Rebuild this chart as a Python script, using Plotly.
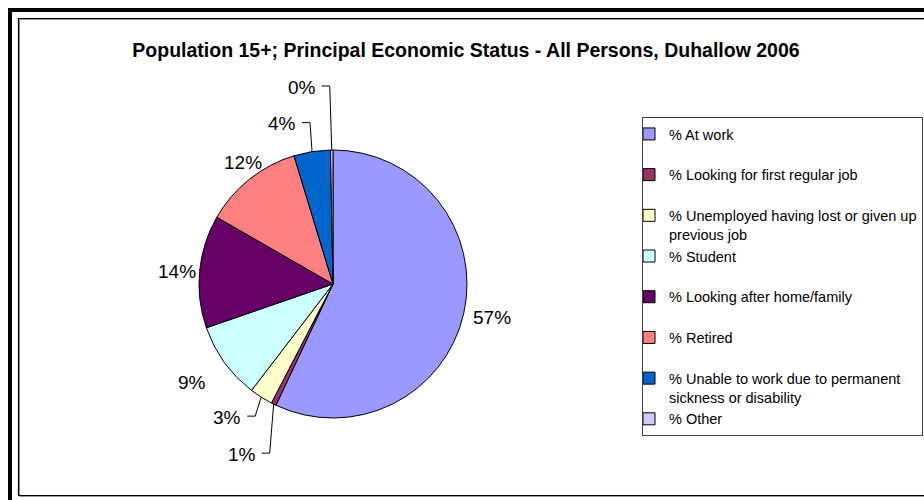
import math
import plotly.graph_objects as go

# Principal economic status, population aged 15+, Duhallow 2006 (percent of all persons)
categories = [
    "% At work",
    "% Looking for first regular job",
    "% Unemployed having lost or given up previous job",
    "% Student",
    "% Looking after home/family",
    "% Retired",
    "% Unable to work due to permanent sickness or disability",
    "% Other",
]
shares = [57.0, 0.6, 2.8, 9.3, 13.6, 12.0, 4.4, 0.3]
colors = ["#9999FF", "#993366", "#FFFFCC", "#CCFFFF", "#660066", "#FF8080", "#0066CC", "#CCCCFF"]

# legend entries: long names wrap onto a second line, short ones get a blank second line
legend_text = [
    "% At work<br>\u00a0",
    "% Looking for first regular job<br>\u00a0",
    "% Unemployed having lost or given up<br>previous job",
    "% Student<br>\u00a0",
    "% Looking after home/family<br>\u00a0",
    "% Retired<br>\u00a0",
    "% Unable to work due to permanent<br>sickness or disability",
    "% Other",
]

# percentage label placement, in pixels relative to the middle of each slice's rim;
# small slices get a label pulled aside with an elbow leader line
label_style = [
    dict(dx=28, dy=4, leader=False),
    dict(dx=-16, dy=50, leader=True),
    dict(dx=-18, dy=20, leader=True),
    dict(dx=-32, dy=20, leader=False),
    dict(dx=-23, dy=0, leader=False),
    dict(dx=-7, dy=-17, leader=False),
    dict(dx=-14, dy=-28, leader=True),
    dict(dx=-14, dy=-63, leader=True),
]

W, H = 924, 500
FONT = "Arial, Liberation Sans, sans-serif"

# pie box in pixels
CX, CY, R = 333, 284, 134


def px(x):
    return x / W


def py(y):
    return 1 - y / H


fig = go.Figure(
    go.Pie(
        labels=legend_text,
        values=shares,
        hovertext=categories,
        hoverinfo="text+percent",
        sort=False,
        direction="clockwise",
        rotation=0,
        marker=dict(colors=colors, line=dict(color="#000000", width=1)),
        textinfo="none",
        domain=dict(x=[px(CX - R), px(CX + R)], y=[py(CY + R), py(CY - R)]),
    )
)

shapes = [
    # heavy outer frame (top and left edges)
    dict(type="rect", x0=px(8), x1=px(12), y0=py(500), y1=py(8),
         fillcolor="#000000", line=dict(width=0)),
    dict(type="rect", x0=px(8), x1=px(924), y0=py(12), y1=py(8),
         fillcolor="#000000", line=dict(width=0)),
    # chart area border with a light shadow line
    dict(type="rect", x0=px(19.5), x1=px(940), y0=py(496.5), y1=py(19.5),
         line=dict(color="#9a9a9a", width=1)),
    dict(type="rect", x0=px(18.5), x1=px(940), y0=py(495.5), y1=py(18.5),
         line=dict(color="#000000", width=1.2)),
]

annotations = []
total = sum(shares)
cum = 0.0
for value, style in zip(shares, label_style):
    mid = (cum + value / 2) / total
    cum += value
    theta = 2 * math.pi * mid  # clockwise from 12 o'clock
    rim_x = CX + R * math.sin(theta)
    rim_y = CY - R * math.cos(theta)
    text = f"{round(100 * value / total):.0f}%"
    lx, ly = rim_x + style["dx"], rim_y + style["dy"]
    if style["leader"]:
        annotations.append(dict(
            text=text, x=px(lx), y=py(ly), xref="paper", yref="paper",
            xanchor="right", yanchor="middle", showarrow=False,
            font=dict(family=FONT, size=19, color="#000000"),
        ))
        y_line = ly - 1
        shapes.append(dict(
            type="path",
            path=(f"M {px(lx + 4)} {py(y_line)} L {px(lx + 12)} {py(y_line)} "
                  f"L {px(rim_x)} {py(rim_y)}"),
            xref="paper", yref="paper",
            line=dict(color="#000000", width=1),
        ))
    else:
        annotations.append(dict(
            text=text, x=px(lx), y=py(ly), xref="paper", yref="paper",
            xanchor="center", yanchor="middle", showarrow=False,
            font=dict(family=FONT, size=19, color="#000000"),
        ))

fig.update_layout(
    width=W,
    height=H,
    margin=dict(l=0, r=0, t=0, b=0),
    paper_bgcolor="#FFFFFF",
    plot_bgcolor="#FFFFFF",
    font=dict(family=FONT, color="#000000"),
    title=dict(
        text="Population 15+; Principal Economic Status - All Persons, Duhallow 2006",
        x=px(466), y=py(50), xanchor="center", yanchor="middle",
        font=dict(family=FONT, size=19.5, color="#000000", weight="bold"),
    ),
    showlegend=True,
    legend=dict(
        x=px(642), y=py(117), xanchor="left", yanchor="top",
        bgcolor="#FFFFFF", bordercolor="#404040", borderwidth=1,
        font=dict(family=FONT, size=14.5, color="#000000"),
        valign="top",
        indentation=-14,
        traceorder="normal",
    ),
    shapes=shapes,
    annotations=annotations,
)

fig.write_html("out.html")
